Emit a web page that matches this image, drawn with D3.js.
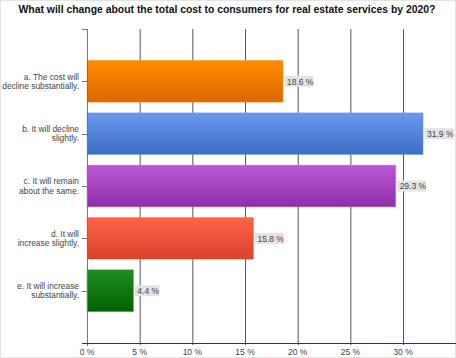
<!DOCTYPE html>
<html><head><meta charset="utf-8">
<script src="https://cdn.jsdelivr.net/npm/d3@7"></script>
<style>body{margin:0;background:#fff}svg{display:block}</style>
</head><body>
<svg id="c" width="456" height="358"></svg>
<script>
const title = "What will change about the total cost to consumers for real estate services by 2020?";
const categories = [
  ["a. The cost will", "decline substantially."],
  ["b. It will decline", "slightly."],
  ["c. It will remain", "about the same."],
  ["d. It will", "increase slightly."],
  ["e. It will increase", "substantially."]
];
const values = [18.6, 31.9, 29.3, 15.8, 4.4];
const valueLabels = ["18.6 %", "31.9 %", "29.3 %", "15.8 %", "4.4 %"];
const xTicks = [0, 5, 10, 15, 20, 25, 30];
const colorsTop = ["#ff8c00", "#6a9aee", "#bc58d3", "#ff6347", "#228b22"];
const colorsBot = ["#dc6800", "#3d6ec6", "#8f2ea9", "#d8422b", "#006400"];

(function(){
const svg = d3.select("#c");
const font = "Arial, 'Liberation Sans', sans-serif";
const pLeft = 87, pTop = 29, pBottom = 343;
const x = d3.scaleLinear().domain([0, 35]).range([pLeft, pLeft + 7 * 52.67]);
const idx = d3.range(values.length);
const y = d3.scalePoint().domain(idx).range([pTop, pBottom]).padding(1);
const bh = y.step() * 0.795;

svg.append("rect").attr("x",0.5).attr("y",0.5).attr("width",455).attr("height",357)
  .attr("fill","#fff").attr("stroke","#e4e4e4");

const defs = svg.append("defs");
idx.forEach(i => {
  const g = defs.append("linearGradient").attr("id","g"+i).attr("x1",0).attr("y1",0).attr("x2",0).attr("y2",1);
  g.append("stop").attr("offset","0%").attr("stop-color",colorsTop[i]);
  g.append("stop").attr("offset","100%").attr("stop-color",colorsBot[i]);
});

svg.append("text").attr("x",227).attr("y",12.5).attr("text-anchor","middle")
  .attr("font-family",font).attr("font-size",10.4).attr("font-weight","bold").attr("fill","#111").text(title);

// grid
svg.append("g").selectAll("line").data(xTicks.slice(1)).join("line")
  .attr("x1",d=>x(d)+0.5).attr("x2",d=>x(d)+0.5).attr("y1",pTop).attr("y2",pBottom+2)
  .attr("stroke","#555").attr("stroke-width",1);

// bars
svg.append("g").selectAll("rect").data(idx).join("rect")
  .attr("x",x(0)).attr("y",i=>y(i)-bh/2).attr("width",i=>x(values[i])-x(0)).attr("height",bh)
  .attr("fill",i=>`url(#g${i})`).attr("stroke",i=>colorsTop[i]).attr("stroke-opacity",0.45);

// value labels
const lg = svg.append("g").selectAll("g").data(idx).join("g")
  .attr("transform",i=>`translate(${x(values[i])+1.5},${y(i)})`);
lg.append("rect").attr("x",0).attr("y",-5.5).attr("height",11)
  .attr("width",i=>valueLabels[i].length*4.5+2).attr("fill","#e3e3e3");
lg.append("text").attr("x",2.5).attr("y",3.2).attr("font-family",font).attr("font-size",8.5)
  .attr("fill","#444").text(i=>valueLabels[i]);

// left axis
svg.append("line").attr("x1",pLeft+0.5).attr("x2",pLeft+0.5).attr("y1",pTop).attr("y2",pBottom+3)
  .attr("stroke","#777");
svg.append("line").attr("x1",pLeft-5).attr("x2",pLeft).attr("y1",pTop+0.5).attr("y2",pTop+0.5).attr("stroke","#777");
svg.append("g").selectAll("line").data(idx).join("line")
  .attr("x1",pLeft-5).attr("x2",pLeft).attr("y1",i=>Math.round(y(i))+0.5).attr("y2",i=>Math.round(y(i))+0.5)
  .attr("stroke","#777");
const cl = svg.append("g").selectAll("text").data(idx).join("text")
  .attr("text-anchor","end").attr("font-family",font).attr("font-size",8.4).attr("fill","#444");
cl.append("tspan").attr("x",79).attr("y",i=>y(i)-1.8).text(i=>categories[i][0]);
cl.append("tspan").attr("x",79).attr("y",i=>y(i)+7.7).text(i=>categories[i][1]);

// bottom axis
svg.append("line").attr("x1",pLeft-5).attr("x2",456).attr("y1",pBottom+0.5).attr("y2",pBottom+0.5)
  .attr("stroke","#333");
svg.append("g").selectAll("text").data(xTicks).join("text")
  .attr("x",d=>x(d)).attr("y",355).attr("text-anchor","middle").attr("font-family",font)
  .attr("font-size",8.5).attr("fill","#444").text(d=>d+" %");
})();
</script>
</body></html>
